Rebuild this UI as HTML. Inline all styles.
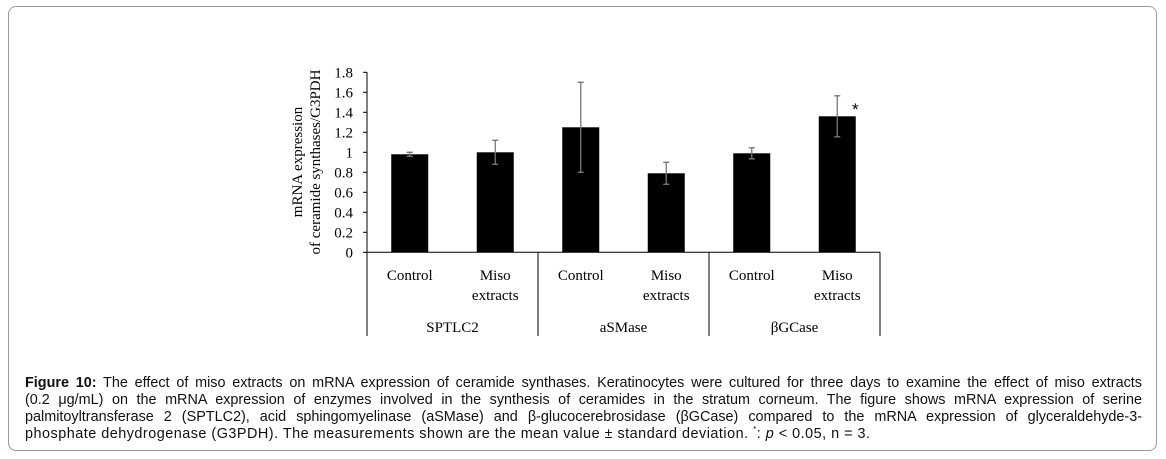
<!DOCTYPE html>
<html><head><meta charset="utf-8">
<style>
body{margin:0;width:1166px;height:459px;background:#fff;position:relative;overflow:hidden;font-family:"Liberation Sans",sans-serif}
#frame{position:absolute;left:8px;top:6px;width:1149px;height:445px;border:1px solid #999;border-radius:8px;box-sizing:border-box}
#cap{position:absolute;left:25px;top:375px;width:1117px;font-size:14.4px;line-height:17px;color:#111}
#cap .ln{white-space:nowrap;text-align:justify;text-align-last:justify;height:17px}
#cap .last{text-align-last:left;letter-spacing:0.5px}
#cap .st{font-size:8px;position:relative;top:-6px}
svg{position:absolute;left:0;top:0}
</style></head><body>
<div id="frame"></div>
<svg id="chart" width="1166" height="360" font-family="'Liberation Serif',serif"></svg>
<div id="cap">
<div class="ln"><b>Figure 10:</b> The effect of miso extracts on mRNA expression of ceramide synthases. Keratinocytes were cultured for three days to examine the effect of miso extracts</div>
<div class="ln">(0.2 μg/mL) on the mRNA expression of enzymes involved in the synthesis of ceramides in the stratum corneum. The figure shows mRNA expression of serine</div>
<div class="ln">palmitoyltransferase 2 (SPTLC2), acid sphingomyelinase (aSMase) and β-glucocerebrosidase (βGCase) compared to the mRNA expression of glyceraldehyde-3-</div>
<div class="ln last">phosphate dehydrogenase (G3PDH). The measurements shown are the mean value ± standard deviation. <span class="st">*</span>: <i>p</i> &lt; 0.05, n = 3.</div>
</div>
<script>
const groups=["SPTLC2","aSMase","βGCase"];
const categories=["Control","Miso extracts","Control","Miso extracts","Control","Miso extracts"];
const values=[0.98,1.0,1.25,0.79,0.99,1.36];
const errors=[0.02,0.12,0.45,0.11,0.055,0.205];
const significant=[false,false,false,false,false,true];
const yTicks=[0,0.2,0.4,0.6,0.8,1,1.2,1.4,1.6,1.8];
const NS="http://www.w3.org/2000/svg";
const svg=document.getElementById('chart');
const x0=367,x1=880,y0=252.3,pxPerUnit=100;
const cw=(x1-x0)/categories.length;
const yS=v=>y0-v*pxPerUnit;
const xC=i=>x0+cw*(i+0.5);
function mk(t,a,txt){const e=document.createElementNS(NS,t);for(const k in a)e.setAttribute(k,a[k]);if(txt!=null)e.textContent=txt;svg.appendChild(e);return e;}
let ax=mk('line',{x1:x0,y1:yS(1.8),x2:x0,y2:y0,stroke:'#000','stroke-width':1});


yTicks.forEach(v=>{
 const t=mk('line',{x1:x0-4,y1:yS(v),x2:x0,y2:yS(v),stroke:'#000'});
 
 
 const l=mk('text',{x:x0-14,y:yS(v)+5,'text-anchor':'end','font-size':15},String(v));
 
 
});
const yt=mk('text',{transform:'translate(302,162) rotate(-90)','text-anchor':'middle','font-size':15});


const ts1=document.createElementNS(NS,'tspan');ts1.setAttribute('x',0);ts1.setAttribute('dy',0);ts1.textContent='mRNA  expression';yt.appendChild(ts1);
const ts2=document.createElementNS(NS,'tspan');ts2.setAttribute('x',0);ts2.setAttribute('dy',18);ts2.textContent='of ceramide synthases/G3PDH';yt.appendChild(ts2);
values.forEach((v,i)=>{
 const cx=xC(i),bw=37;
 const b=mk('rect',{x:cx-bw/2,y:yS(v),width:bw,height:y0-yS(v),fill:'#000'});
 
 
 const e=errors[i];
 const g=mk('path',{d:`M${cx},${yS(v+e)}V${yS(v-e)}M${cx-3},${yS(v+e)}H${cx+3}M${cx-3},${yS(v-e)}H${cx+3}`,stroke:'#777','stroke-width':1.3,fill:'none'});
 
 
 if(significant[i]){const s=mk('text',{x:cx+18,y:yS(v+e)+19,'text-anchor':'middle','font-size':17,'font-family':'Liberation Sans'},'*');
  
  }
 const parts=categories[i].split(' ');
 parts.forEach((p,k)=>{const l=mk('text',{x:cx,y:280+k*20,'text-anchor':'middle','font-size':15},p);
  
  });
});
const xa=mk('line',{x1:x0,y1:y0,x2:x1,y2:y0,stroke:'#000'});


const gw=(x1-x0)/groups.length;
for(let k=0;k<=groups.length;k++){
 const d=mk('line',{x1:x0+gw*k,y1:y0,x2:x0+gw*k,y2:336,stroke:'#000'});
 
 
}
groups.forEach((g,k)=>{const l=mk('text',{x:x0+gw*(k+0.5),y:332,'text-anchor':'middle','font-size':15},g);
 
 });
</script>
</body></html>
